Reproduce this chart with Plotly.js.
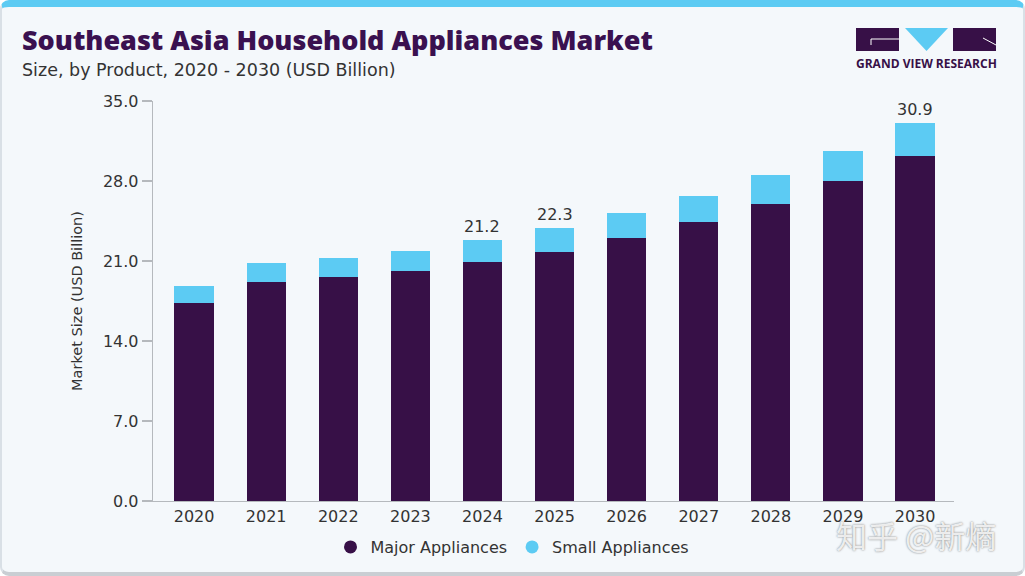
<!DOCTYPE html>
<html>
<head>
<meta charset="utf-8">
<script src="https://cdn.plot.ly/plotly-3.0.1.min.js"></script>
<style>
  html, body { margin:0; padding:0; background:#ffffff; }
  #wrap { position:relative; width:1025px; height:576px; overflow:hidden; }
  #frame { position:absolute; left:0; top:0; width:1025px; height:576px; box-sizing:border-box;
           background:#f4f8fb; border:2px solid #d9e0e6; border-top:7px solid #5ccbf3;
           border-bottom:4px solid #c9ced3; border-radius:9px; }
  #logo { position:absolute; left:0; top:0; }
  #chart { position:absolute; left:0; top:0; width:1025px; height:576px; }
</style>
</head>
<body>
<div id="wrap">
  <div id="frame"></div>
  <svg id="logo" width="1025" height="80">
    <rect x="856" y="28" width="43" height="23" fill="#371047"/>
    <polyline points="899,39 871,39 871,45" fill="none" stroke="#ffffff" stroke-width="1"/>
    <polygon points="905,28 948,28 926.5,51" fill="#5ccbf3"/>
    <rect x="953" y="28" width="43" height="23" fill="#371047"/>
    <line x1="983" y1="38" x2="996" y2="45" stroke="#ffffff" stroke-width="1"/>
  </svg>
  <div id="chart"></div>
</div>
<script>
// ---- data ----
var years = ['2020','2021','2022','2023','2024','2025','2026','2027','2028','2029','2030'];
var majorAppliances = [17.3, 19.2, 19.6, 20.1, 20.9, 21.8, 23.0, 24.4, 26.0, 28.0, 30.2];
var smallAppliances = [1.5, 1.6, 1.7, 1.8, 1.9, 2.1, 2.2, 2.3, 2.5, 2.6, 2.9];
var labelYears = ['2024', '2025', '2030'];
var labelTexts = ['21.2', '22.3', '30.9'];
var yTickVals = [0, 7, 14, 21, 28, 35];

var colMajor = '#371047';
var colSmall = '#5ccbf3';
var W = 1025, H = 576;
var M = {l:153, r:71, t:101, b:75};
var PW = W - M.l - M.r, PH = H - M.t - M.b;
function px(x){ return (x - M.l) / PW; }
function py(y){ return (H - M.b - y) / PH; }

var FONT = '"DejaVu Sans", "Liberation Sans", sans-serif';
var TFONT = '"Open Sans", "DejaVu Sans", sans-serif';

var traces = [
  {type:'bar', name:'Major Appliances', x:years, y:majorAppliances,
   marker:{color:colMajor}, showlegend:false, hoverinfo:'skip'},
  {type:'bar', name:'Small Appliances', x:years, y:smallAppliances,
   marker:{color:colSmall}, showlegend:false, hoverinfo:'skip'},
  {type:'scatter', mode:'markers', name:'Major Appliances', x:[null], y:[null],
   marker:{symbol:'circle', size:13, color:colMajor}},
  {type:'scatter', mode:'markers', name:'Small Appliances', x:[null], y:[null],
   marker:{symbol:'circle', size:13, color:colSmall}}
];

var annotations = [];
labelYears.forEach(function(yr, i){
  var idx = years.indexOf(yr);
  annotations.push({x:idx, y:majorAppliances[idx] + smallAppliances[idx], xref:'x', yref:'y',
    text:labelTexts[i], showarrow:false, yanchor:'bottom', yshift:2,
    font:{family:FONT, size:16, color:'#333333'}});
});
annotations.push({xref:'paper', yref:'paper', x:px(20), y:py(40), xanchor:'left', yanchor:'middle',
  text:'Southeast Asia Household Appliances Market', showarrow:false,
  font:{family:TFONT, size:27, weight:800, color:'#3a1150'}});
annotations.push({xref:'paper', yref:'paper', x:px(20), y:py(70), xanchor:'left', yanchor:'middle',
  text:'Size, by Product, 2020 - 2030 (USD Billion)', showarrow:false,
  font:{family:FONT, size:17.5, color:'#333333'}});
annotations.push({xref:'paper', yref:'paper', x:px(926.5), y:py(63.5), xanchor:'center', yanchor:'middle',
  text:'GRAND VIEW RESEARCH', showarrow:false,
  font:{family:TFONT, size:12, weight:700, color:'#371047'}});
annotations.push({xref:'paper', yref:'paper', x:px(916), y:py(534), xanchor:'center', yanchor:'middle',
  text:'知乎 @新熵', showarrow:false,
  font:{family:'"Noto Sans CJK SC", sans-serif', size:31, color:'rgba(250,250,250,0.9)',
        shadow:'0px 0px 2px #666666'}});

var layout = {
  width:W, height:H,
  margin:M,
  paper_bgcolor:'rgba(0,0,0,0)', plot_bgcolor:'rgba(0,0,0,0)',
  barmode:'stack', bargap:0.456,
  font:{family:FONT, color:'#333333'},
  xaxis:{type:'category', range:[-0.57, 10.54], showline:true, linecolor:'#b5b9bd', linewidth:1.3,
         ticks:'', tickfont:{family:FONT, size:16, color:'#333333'}, showgrid:false, zeroline:false,
         fixedrange:true},
  yaxis:{range:[0,35], tickvals:yTickVals, tickformat:'.1f', showline:true, linecolor:'#b5b9bd', linewidth:1.3,
         ticks:'outside', ticklen:10, tickcolor:'#b5b9bd', tickwidth:1.3,
         tickfont:{family:FONT, size:16, color:'#333333'}, showgrid:false, zeroline:false,
         title:{text:'Market Size (USD Billion)', font:{family:FONT, size:14.5, color:'#333333'}, standoff:16},
         fixedrange:true},
  legend:{orientation:'h', traceorder:'normal', xref:'container', yref:'container', x:0.5, xanchor:'center',
          y:1 - 547/576, yanchor:'middle', font:{family:FONT, size:16, color:'#333333'},
          bgcolor:'rgba(0,0,0,0)'},
  annotations:annotations,
  showlegend:true
};

Plotly.newPlot('chart', traces, layout, {displayModeBar:false, staticPlot:true});
</script>
</body>
</html>
